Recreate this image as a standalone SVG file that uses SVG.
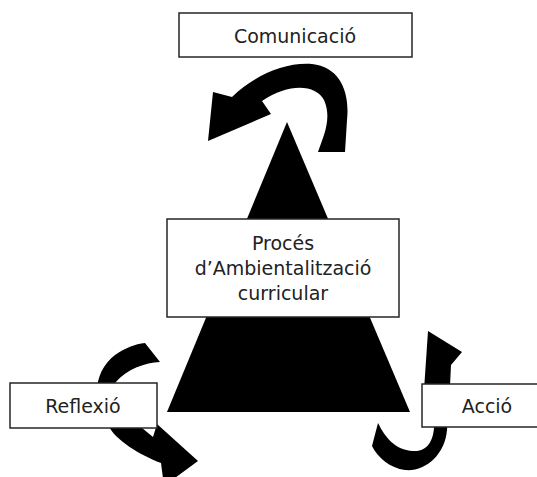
<svg xmlns="http://www.w3.org/2000/svg" width="537" height="477" viewBox="0 0 537 477">
<style>
.box{fill:#fff;stroke:#262626;stroke-width:1.5}
.lbl{font-family:"DejaVu Sans",sans-serif;font-size:19px;fill:#222;text-anchor:middle}
.arr{fill:#000;stroke:none}
</style>
<rect width="537" height="477" fill="#fff"/>
<g id="triangle"><polygon points="287,122 167,412 410,412" fill="#000"/></g>
<g id="connectors">
<path class="arr" d="M318 152 C324 135,332 118,324 100 C316 85,290 82,262 101 L271 114 L208 141 L213 92 L232 97 C255 75,285 62,312 64 C340 67,350 92,347 120 L345 152 Z"/>
<path class="arr" d="M145 343 L160 362 C145 363,128 368,115 383 C105 396,118 420,142 428 L153 437 L157 424 L198 461 L164 486 L161 463 C140 455,115 440,108 425 C90 400,95 370,115 355 C125 348,135 344,145 343 Z"/>
<path class="arr" d="M428 331 L462 352 L451 365 L450 386 L447 430 C445 455,425 472,405 470 C390 468,378 458,372 446 L378 423 C385 437,395 450,413 451 C428 452,433 440,434 428 L424 390 Z"/>
</g>
<g id="comunicacio"><rect class="box" x="179" y="13" width="233" height="44"/><text class="lbl" x="295" y="43">Comunicació</text></g>
<g id="proces"><rect class="box" x="167" y="219" width="232" height="98"/>
<text class="lbl" x="283" y="250">Procés</text>
<text class="lbl" x="283" y="275">d’Ambientalització</text>
<text class="lbl" x="283" y="300">curricular</text></g>
<g id="reflexio"><rect class="box" x="10" y="383" width="147" height="45"/><text class="lbl" x="83" y="413">Reflexió</text></g>
<g id="accio"><rect class="box" x="422" y="384" width="125" height="43"/><text class="lbl" x="487" y="413">Acció</text></g>
</svg>
